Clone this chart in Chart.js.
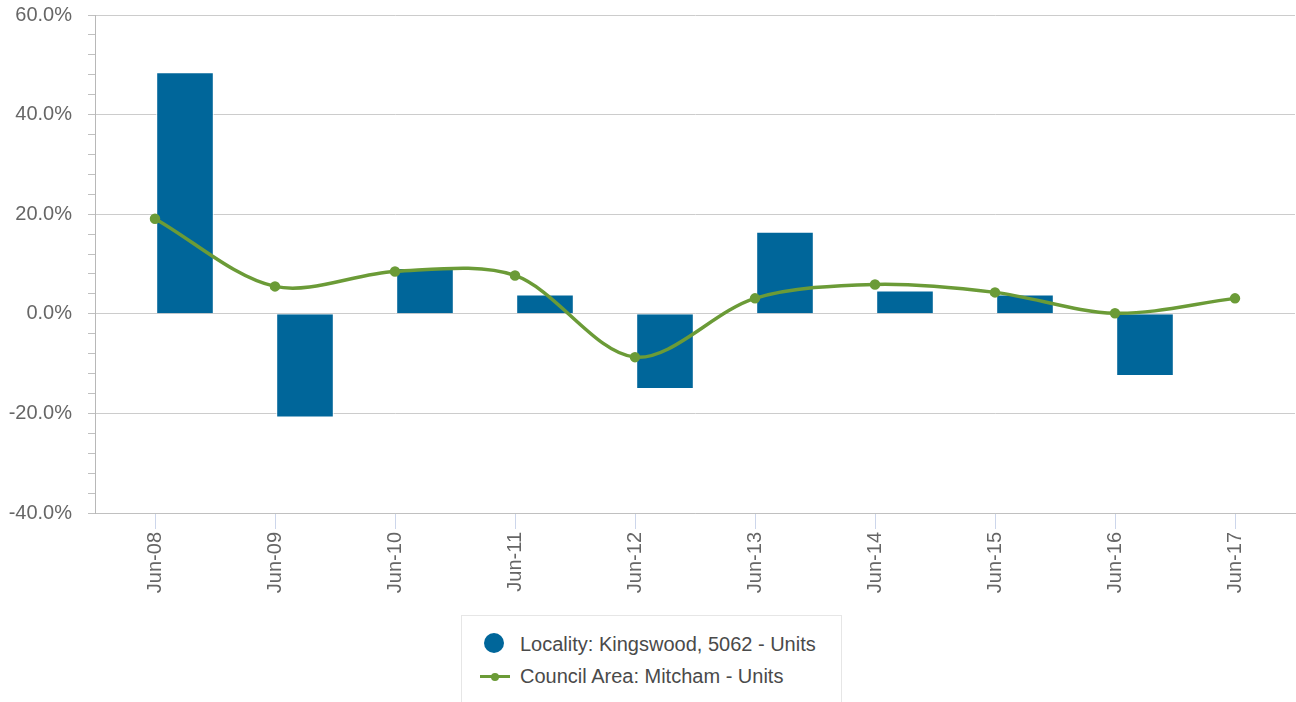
<!DOCTYPE html>
<html>
<head>
<meta charset="utf-8">
<script src="https://cdn.jsdelivr.net/npm/chart.js@4.4.1/dist/chart.umd.min.js"></script>
<style>
  body { margin: 0; background: #fff; font-family: "Liberation Sans", Arial, sans-serif; overflow: hidden; }
  #wrap { position: absolute; left: 0; top: 0; width: 1302px; height: 613px; }
  #legend {
    position: absolute; left: 461px; top: 615px; width: 381px; height: 100px;
    border: 1px solid #e6e6e6; box-sizing: border-box;
  }
  .item { position: absolute; left: 58px; font-size: 20px; color: #4a4a4a; white-space: nowrap; line-height: 24px; }
  .dot { position: absolute; width: 20px; height: 20px; border-radius: 50%; background: #00669a; }
  .ln { position: absolute; width: 30px; height: 3px; background: #6b9b37; }
  .ln::after { content: ""; position: absolute; left: 11px; top: -2.5px; width: 8px; height: 8px; border-radius: 50%; background: #6b9b37; }
</style>
</head>
<body>
<div id="wrap"><canvas id="chart"></canvas></div>
<div id="legend">
  <div class="dot" style="left:22px; top:17px;"></div>
  <div class="item" style="top:16px;">Locality: Kingswood, 5062 - Units</div>
  <div class="ln" style="left:18px; top:59px;"></div>
  <div class="item" style="top:48px;">Council Area: Mitcham - Units</div>
</div>
<script>
const labels = ["Jun-08", "Jun-09", "Jun-10", "Jun-11", "Jun-12", "Jun-13", "Jun-14", "Jun-15", "Jun-16", "Jun-17"];
const localityUnits = [48.5, -20.8, 9.2, 3.9, -15.1, 16.5, 4.7, 3.9, -12.5, null];
const councilUnits = [19.1, 5.5, 8.5, 7.7, -8.7, 3.1, 5.9, 4.3, 0.1, 3.1];
const emptySlot = labels.map(() => null);

const textColor = "#666666";
const fontFamily = "'Liberation Sans', Arial, sans-serif";

new Chart(document.getElementById("chart"), {
  type: "bar",
  data: {
    labels: labels,
    datasets: [
      {
        // empty left slot so the columns sit right of each tick
        label: "spacer",
        data: emptySlot,
        backgroundColor: "transparent",
        order: 1,
      },
      {
        label: "Locality: Kingswood, 5062 - Units",
        data: localityUnits,
        backgroundColor: "#00669a",
        borderColor: "#ffffff",
        borderWidth: 1,
        order: 1,
      },
      {
        type: "line",
        label: "Council Area: Mitcham - Units",
        data: councilUnits,
        borderColor: "#6b9b37",
        backgroundColor: "#6b9b37",
        borderWidth: 3.5,
        pointRadius: 3.5,
        pointHoverRadius: 3.5,
        tension: 0.32,
        order: 0,
      },
    ],
  },
  options: {
    responsive: true,
    maintainAspectRatio: false,
    animation: false,
    datasets: {
      bar: { categoryPercentage: 1.0, barPercentage: 0.96 },
    },
    layout: { padding: { top: 15, left: 0, right: 0, bottom: 0 } },
    plugins: {
      legend: { display: false },
      tooltip: { enabled: false },
    },
    scales: {
      x: {
        offset: true,
        afterFit: (scale) => { scale.height = 100; },
        grid: {
          display: true,
          drawOnChartArea: false,
          offset: false,
          tickLength: 16,
          tickColor: "#ccd6eb",
          tickWidth: 1,
        },
        border: { display: true, color: "#c0c0c0", width: 1 },
        ticks: {
          minRotation: 90,
          maxRotation: 90,
          padding: 3,
          color: textColor,
          font: { family: fontFamily, size: 20 },
        },
      },
      y: {
        min: -40,
        max: 60,
        afterFit: (scale) => {
          scale.width = 95;
          scale.paddingTop = 0;
          scale.paddingBottom = 0;
        },
        grid: {
          color: (ctx) => (ctx.tick && Math.abs(ctx.tick.value % 20) < 1e-6 ? "#cccccc" : "rgba(0,0,0,0)"),
          tickColor: "#c0c0c0",
          tickLength: 7,
          lineWidth: 1,
        },
        border: { display: true, color: "#b8b8b8", width: 1 },
        ticks: {
          stepSize: 4,
          autoSkip: false,
          padding: 16,
          color: textColor,
          font: { family: fontFamily, size: 20 },
          callback: (value) => (Math.abs(value % 20) < 1e-6 ? value.toFixed(1) + "%" : ""),
        },
      },
    },
  },
});
</script>
</body>
</html>
